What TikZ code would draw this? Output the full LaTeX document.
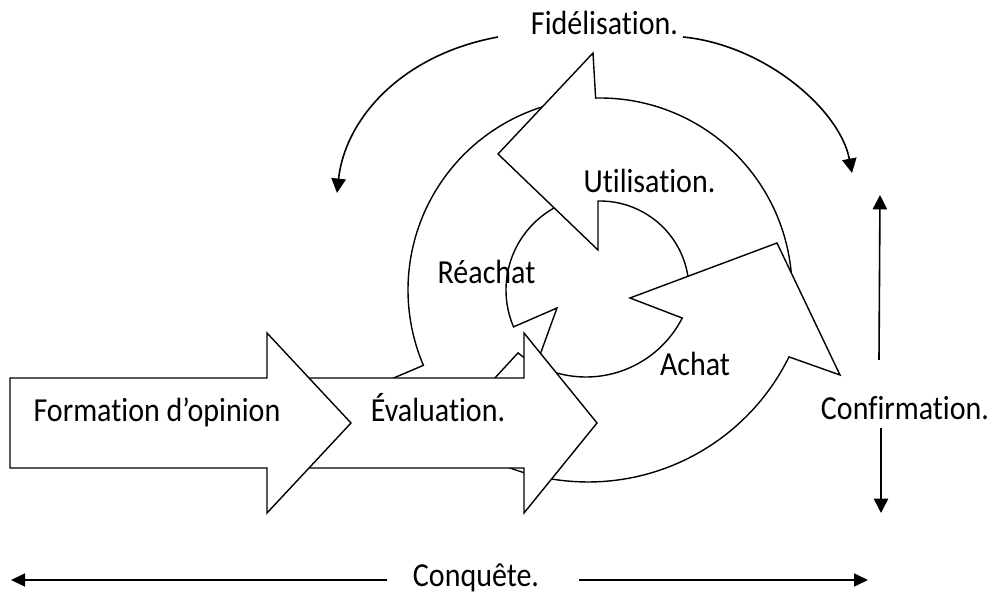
\documentclass[tikz,border=0pt]{standalone}
\usepackage{fontspec}
\usepackage{graphicx}
\setmainfont{Carlito}[Ligatures=NoCommon]
\usetikzlibrary{calc,arrows.meta}
\newcommand{\tall}[1]{\scalebox{1}[1.12]{#1}}
\begin{document}
\begin{tikzpicture}[x=0.5pt,y=0.5pt]
\tikzset{
  band/.style={draw=black, fill=white, line width=0.7pt, line join=miter},
  blockarrow/.style={draw=black, fill=white, line width=0.7pt, line join=miter},
  txt/.style={font=\fontsize{15}{18}\selectfont, inner sep=0pt, anchor=base},
  connector/.style={line width=0.8pt, -{Triangle[width=7.2pt,length=7.2pt]}},
  hconnector/.style={line width=0.8pt, -{Triangle[width=6.5pt,length=7pt]}},
}
\useasboundingbox (0,0) rectangle (992,594);

% centres of the ring segments
\coordinate (cc) at (600,304);
\coordinate (ci) at (586,325);
\coordinate (co) at (588,336);

% Réachat segment (left side, head at the lower left)
\draw[band] ($(cc)+(100:192)$) arc[start angle=100,end angle=203.1,radius=192]
  -- ($(cc)+(203.1:240)$) -- (511,159) -- (557,286) -- ($(cc)+(203.1:94)$)
  arc[start angle=203.1,end angle=100,radius=94] -- cycle;

% Utilisation segment (upper right, head at the top)
\draw[band] ($(cc)+(-5:192)$) arc[start angle=-5,end angle=91.3,radius=192]
  -- (593,541) -- (498,440) -- (598,344) -- ($(cc)+(91.3:89)$)
  arc[start angle=91.3,end angle=-5,radius=89] -- cycle;

% Achat segment (bottom, head at the right)
\draw[band] ($(ci)+(231:108)$) arc[start angle=231,end angle=333,radius=108]
  -- (630,296) -- (777,351) -- (840,219) -- ($(co)+(333.8:224)$)
  arc[start angle=333.8,end angle=230.6,radius=224] -- cycle;

% straight process arrows
\draw[blockarrow] (280,216) -- (524,216) -- (524,261) -- (597,171) -- (524,81)
  -- (524,126) -- (280,126) -- cycle;
\draw[blockarrow] (10,216) -- (267,216) -- (267,261) -- (351,171) -- (267,81)
  -- (267,126) -- (10,126) -- cycle;

% labels
\node[txt] (fid) at (604.5,559) {\tall{Fidélisation.}};
\node[txt] (util) at (649.5,401) {\tall{Utilisation.}};
\node[txt] (reach) at (486.5,310) {\tall{Réachat}};
\node[txt] (achat) at (695,218) {\tall{Achat}};
\node[txt] (conf) at (905,174) {\tall{Confirmation.}};
\node[txt] (form) at (157,172) {\tall{Formation d’opinion}};
\node[txt] (eval) at (438,172) {\tall{Évaluation.}};
\node[txt] (conq) at (476,7) {\tall{Conquête.}};

% connector end points
\coordinate (fidL) at (498,557);
\coordinate (fidLtip) at (337,401);
\coordinate (fidR) at (683,557);
\coordinate (fidRtip) at (852,421);
\coordinate (confU) at (879,234);
\coordinate (confUtip) at (880,399);
\coordinate (confD) at (881,166);
\coordinate (confDtip) at (881,81);
\coordinate (conqL) at (387,14);
\coordinate (conqLtip) at (11,14);
\coordinate (conqR) at (579,14);
\coordinate (conqRtip) at (868,14);

\draw[connector] (fidL) .. controls (400,539) and (345,474) .. (fidLtip);
\draw[connector] (fidR) .. controls (765,549) and (840,484) .. (fidRtip);
\draw[connector] (confU) -- (confUtip);
\draw[connector] (confD) -- (confDtip);
\draw[hconnector] (conqL) -- (conqLtip);
\draw[hconnector] (conqR) -- (conqRtip);
\end{tikzpicture}
\end{document}
